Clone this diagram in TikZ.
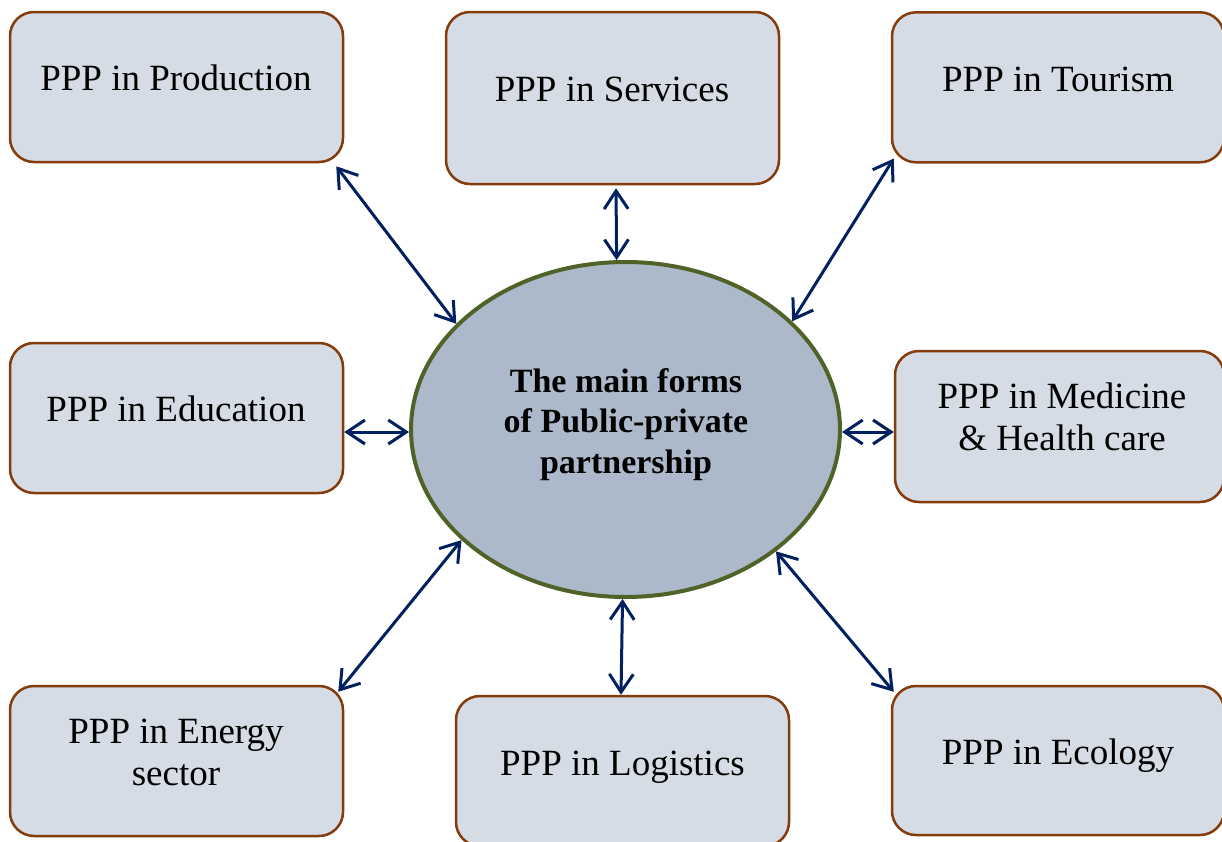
\documentclass[tikz,border=0pt]{standalone}
\usepackage{fontspec}
\setmainfont{Liberation Serif}
\usetikzlibrary{arrows.meta,shapes.geometric}
\definecolor{boxfill}{HTML}{D6DCE5}
\definecolor{boxline}{HTML}{843C0C}
\definecolor{ellfill}{HTML}{ACB9CA}
\definecolor{ellline}{HTML}{4F6228}
\definecolor{arrcol}{HTML}{002060}
\tikzset{
  formbox/.style={draw=boxline, fill=boxfill, line width=2.5pt, rounded corners=24pt, inner sep=0pt},
  formlbl/.style={font=\fontsize{37}{41.5}\selectfont, align=center, inner sep=0pt, anchor=base},
  centerell/.style={ellipse, draw=ellline, fill=ellfill, line width=4pt, inner sep=0pt, minimum width=429pt, minimum height=335pt},
  centerlbl/.style={font=\fontsize{34}{40.5}\selectfont\bfseries, align=center, inner sep=0pt, anchor=base},
  link/.style={draw=arrcol, line width=3pt, {Straight Barb[length=18pt,width=24pt,line width=3pt]}-{Straight Barb[length=18pt,width=24pt,line width=3pt]}}
}
\begin{document}
\begin{tikzpicture}[x=1pt,y=-1pt]
\useasboundingbox (0,0) rectangle (1222,841);
\clip (0,0) rectangle (1222,841);
% boxes
\node[formbox, minimum width=333pt, minimum height=150pt] (prod) at (176.5,87) {};
\node[formbox, minimum width=333pt, minimum height=172pt] (serv) at (612.5,98) {};
\node[formbox, minimum width=332pt, minimum height=150pt] (tour) at (1058,87.3) {};
\node[formbox, minimum width=333pt, minimum height=150pt] (edu) at (176.5,418) {};
\node[formbox, minimum width=329pt, minimum height=151pt] (med) at (1059.5,426.5) {};
\node[formbox, minimum width=333pt, minimum height=150pt] (ener) at (176.5,761) {};
\node[formbox, minimum width=333pt, minimum height=150pt] (logi) at (622.5,771) {};
\node[formbox, minimum width=332pt, minimum height=149pt] (ecol) at (1058,760.5) {};
% labels (multi-line labels are placed by the baseline of their last line)
\node[formlbl] (prodT) at (176,90) {PPP in Production};
\node[formlbl] (servT) at (612,101) {PPP in Services};
\node[formlbl] (tourT) at (1058,91) {PPP in Tourism};
\node[formlbl] (eduT) at (176,421) {PPP in Education};
\node[formlbl] (medT) at (1062,450) {PPP in Medicine\\\& Health care};
\node[formlbl] (enerT) at (176,785) {PPP in Energy\\sector};
\node[formlbl] (logiT) at (622.5,775) {PPP in Logistics};
\node[formlbl] (ecolT) at (1058,764) {PPP in Ecology};
% centre
\node[centerell] (ell) at (625.5,429.5) {};
\node[centerlbl] (ellT) at (626,473) {The main forms\\of Public-private\\partnership};
% connectors
\draw[link] ([shift={(-8,3)}]prod.south east) -- (ell.148);
\draw[link] ([shift={(3.5,3)}]serv.south) -- (ell.93);
\draw[link] ([shift={(3,-5)}]tour.south west) -- (ell.33);
\draw[link] ([shift={(0,14)}]edu.east) -- ([shift={(0,2.5)}]ell.west);
\draw[link] ([shift={(0,2.5)}]ell.east) -- ([shift={(0,5.5)}]med.west);
\draw[link] ([shift={(-6,7)}]ener.north east) -- (ell.214);
\draw[link] ([shift={(-1.5,0)}]logi.north) -- (ell.269);
\draw[link] (ell.321) -- ([shift={(3,7)}]ecol.north west);
\end{tikzpicture}
\end{document}
